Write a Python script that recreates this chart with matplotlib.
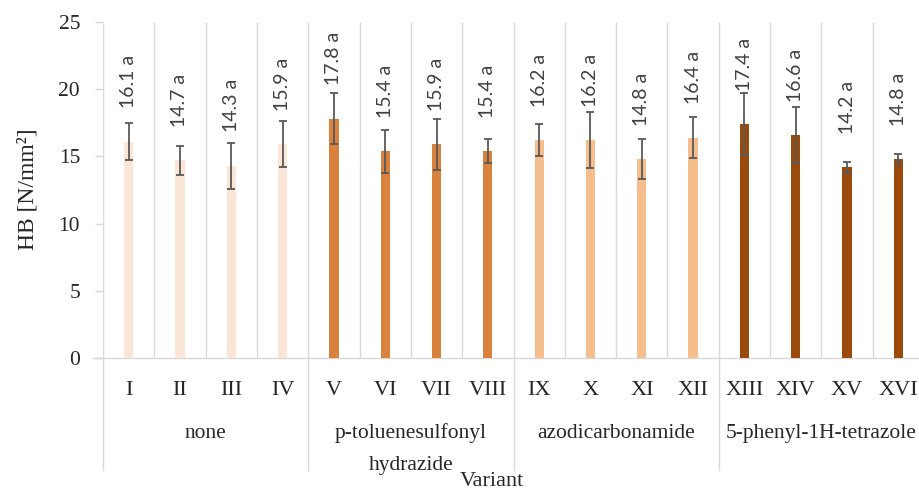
import numpy as np
import matplotlib
matplotlib.use("Agg")
import matplotlib.pyplot as plt
from matplotlib.transforms import blended_transform_factory

# ---------------- data ----------------
variants = ["I", "II", "III", "IV", "V", "VI", "VII", "VIII",
            "IX", "X", "XI", "XII", "XIII", "XIV", "XV", "XVI"]
hb_values = [16.1, 14.7, 14.3, 15.9, 17.8, 15.4, 15.9, 15.4,
             16.2, 16.2, 14.8, 16.4, 17.4, 16.6, 14.2, 14.8]
hb_errors = [1.4, 1.1, 1.7, 1.7, 1.9, 1.6, 1.9, 0.9,
             1.2, 2.1, 1.5, 1.5, 2.3, 2.1, 0.4, 0.4]
group_letters = ["a"] * 16
groups = ["none", "p-toluenesulfonyl\nhydrazide", "azodicarbonamide", "5-phenyl-1H-tetrazole"]
group_size = 4
group_colors = ["#FBE5D6", "#D8823D", "#F7BE8D", "#9A4A0D"]
y_ticks = [0, 5, 10, 15, 20, 25]
y_label = "HB [N/mm²]"
x_label = "Variant"

# ---------------- figure ----------------
W, H = 919, 491
fig = plt.figure(figsize=(W / 100, H / 100), dpi=100)
ax_left, ax_right = 103, 924
ax_top, ax_bottom = 22, 358
ax = fig.add_axes([ax_left / W, 1 - ax_bottom / H, (ax_right - ax_left) / W, (ax_bottom - ax_top) / H])

serif = ["Liberation Serif", "DejaVu Serif"]
sans = ["Lato", "DejaVu Sans"]
grid_c = "#D9D9D9"
text_c = "#262626"

n = len(variants)
x = np.arange(n)
colors = [group_colors[i // group_size] for i in range(n)]

ax.bar(x, hb_values, width=0.18, color=colors, zorder=2)
ax.errorbar(x, hb_values, yerr=hb_errors, fmt="none", ecolor="#595959",
            elinewidth=1.3, capsize=3, capthick=1.3, zorder=3)

for xi, v, letter in zip(x, hb_values, group_letters):
    ax.annotate(f"{v:.1f} {letter}", xy=(xi, v), xytext=(0, 24), textcoords="offset points",
                rotation=90, ha="center", va="bottom", fontsize=14, family=sans,
                color="#404040", zorder=4)

ax.set_xlim(-0.5, n - 0.5)
ax.set_ylim(0, 25)
for s in ax.spines.values():
    s.set_visible(False)

# vertical grid lines at category boundaries
ax.vlines(np.arange(-0.5, n, 1), 0, 25, color=grid_c, lw=1, zorder=1)
# category axis line (extends slightly left)
ax.plot([-0.5 - 10 / 51.3, n - 0.5], [0, 0], color=grid_c, lw=1, clip_on=False, zorder=1)

ax.set_yticks(y_ticks)
ax.set_yticklabels([str(t) for t in y_ticks], family=serif, fontsize=15.5, color=text_c)
ax.tick_params(axis="y", length=5.5, width=1, color=grid_c, pad=11)
ax.set_xticks([])

# multi-level category labels
trans = blended_transform_factory(ax.transData, ax.transAxes)
px = 1.0 / (ax_bottom - ax_top)
for xi, lab in zip(x, variants):
    ax.text(xi, -(395 - ax_bottom) * px, lab, transform=trans, ha="center", va="baseline",
            family=serif, fontsize=16, color=text_c)

for gi, g in enumerate(groups):
    cx = gi * group_size + (group_size - 1) / 2
    for li, line in enumerate(g.split("\n")):
        ax.text(cx, -(438 + 32 * li - ax_bottom) * px, line, transform=trans, ha="center",
                va="baseline", family=serif, fontsize=15.5, color=text_c)

for b in np.arange(-0.5, n + 0.5, group_size):
    ax.plot([b, b], [0, -(470 - ax_bottom) * px], transform=trans, color=grid_c, lw=1,
            clip_on=False)

fig.text(492 / W, 1 - 486 / H, x_label, ha="center", va="baseline", family=serif,
         fontsize=16, color=text_c)
fig.text(28 / W, 1 - 189 / H, y_label, ha="center", va="center", rotation=90,
         family=serif, fontsize=17, color=text_c)

fig.savefig("out.png", dpi=100)
